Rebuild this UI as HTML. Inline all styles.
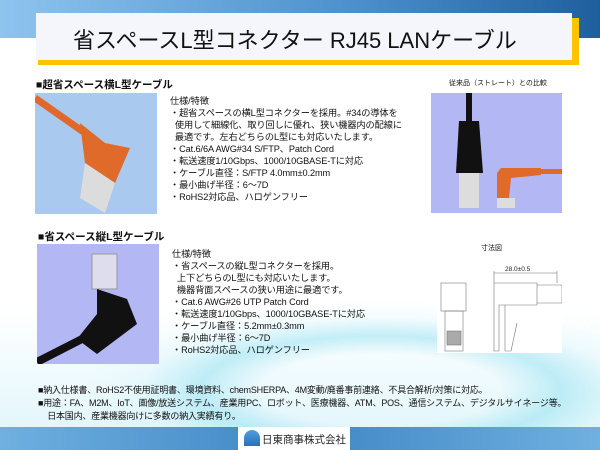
<!DOCTYPE html>
<html><head><meta charset="utf-8"><style>
*{margin:0;padding:0;box-sizing:border-box}
body{width:600px;height:450px;overflow:hidden;position:relative;background:#fff;font-family:"Liberation Sans","Noto Sans CJK JP",sans-serif;color:#111}
.a{position:absolute;white-space:nowrap}
.swirl{position:absolute;left:0;top:250px;width:600px;height:200px;background:radial-gradient(ellipse 300px 90px at 380px 140px,rgba(150,225,240,.0) 40%,rgba(150,225,240,.55) 60%,rgba(200,240,250,.2) 80%,rgba(255,255,255,0) 100%),linear-gradient(180deg,rgba(255,255,255,0) 30%,rgba(200,238,248,.6) 100%)}
.spec{font-size:9.2px;line-height:12px;letter-spacing:-0.1px}
.bot{font-size:9px;line-height:13px;letter-spacing:-0.2px}
</style></head><body>
<div class="swirl"></div>
<div class="a" style="left:0;top:0;width:600px;height:38px;background:linear-gradient(90deg,#8ec4ee,#4a8fcc 60%,#1f5f9e)"></div>
<div class="a" style="left:38px;top:18px;width:541px;height:47px;background:#fdc300"></div>
<div class="a" style="left:36px;top:13px;width:536px;height:47px;background:#f5f6fc"></div>
<div class="a" style="left:73px;top:23px;font-size:22px;color:#111">省スペースL型コネクター RJ45 LANケーブル</div>

<div class="a" style="left:36px;top:77px;font-size:10.5px;font-weight:bold">■超省スペース横L型ケーブル</div>
<div class="a" style="left:449px;top:78px;font-size:7px">従来品（ストレート）との比較</div>
<div class="a" style="left:35px;top:93px;width:122px;height:121px;background:#a9c9ef">
<svg width="122" height="121"><path d="M0 5 L50 40" stroke="#e0682a" stroke-width="7" fill="none"/><path d="M45 30 L70 50 L95 55 L80 90 L50 70Z" fill="#e06a2a"/><path d="M50 70 L80 90 L70 120 L45 105Z" fill="#dcdcdc"/></svg></div>
<div class="a" style="left:431px;top:93px;width:131px;height:120px;background:#b3b8f4">
<svg width="131" height="120"><rect x="35" y="0" width="6" height="30" fill="#111"/><path d="M28 28 L48 28 L52 80 L25 80Z" fill="#111"/><rect x="28" y="80" width="20" height="35" fill="#ddd"/><path d="M70 75 L110 75 L110 82 L80 85 L78 105 L66 105 L66 80Z" fill="#e06a2a"/><rect x="110" y="76" width="21" height="5" fill="#e06a2a"/><rect x="66" y="105" width="18" height="10" fill="#ddd"/></svg></div>
<div class="a spec" style="left:170px;top:95px">仕様/特徴<br>・超省スペースの横L型コネクターを採用。#34の導体を<br>&nbsp;&nbsp;使用して細線化、取り回しに優れ、狭い機器内の配線に<br>&nbsp;&nbsp;最適です。左右どちらのL型にも対応いたします。<br>・Cat.6/6A AWG#34 S/FTP、Patch Cord<br>・転送速度1/10Gbps、1000/10GBASE-Tに対応<br>・ケーブル直径：S/FTP 4.0mm±0.2mm<br>・最小曲げ半径：6～7D<br>・RoHS2対応品、ハロゲンフリー</div>

<div class="a" style="left:38px;top:229px;font-size:10.5px;font-weight:bold">■省スペース縦L型ケーブル</div>
<div class="a" style="left:37px;top:244px;width:122px;height:120px;background:#b3b8f4">
<svg width="122" height="120"><rect x="55" y="10" width="25" height="35" fill="#dde" stroke="#999"/><path d="M60 45 L90 55 L100 80 L60 110 L40 95 L60 70Z" fill="#111"/><path d="M0 118 L45 95" stroke="#111" stroke-width="8"/></svg></div>
<div class="a spec" style="left:172px;top:248px">仕様/特徴<br>・省スペースの縦L型コネクターを採用。<br>&nbsp;&nbsp;上下どちらのL型にも対応いたします。<br>&nbsp;&nbsp;機器背面スペースの狭い用途に最適です。<br>・Cat.6 AWG#26 UTP Patch Cord<br>・転送速度1/10Gbps、1000/10GBASE-Tに対応<br>・ケーブル直径：5.2mm±0.3mm<br>・最小曲げ半径：6～7D<br>・RoHS2対応品、ハロゲンフリー</div>

<div class="a" style="left:481px;top:243px;font-size:7px">寸法図</div>
<div class="a" style="left:437px;top:263px;width:125px;height:90px;background:#fff">
<svg width="125" height="90" stroke="#777" fill="none" stroke-width=".6"><path d="M57 8 L57 20 M120 8 L120 20 M57 10 L120 10"/><text x="68" y="8" font-size="6.5" fill="#222" stroke="none" font-family="Liberation Sans">28.0±0.5</text><rect x="4" y="20" width="25" height="28"/><rect x="8" y="48" width="18" height="40"/><rect x="10" y="68" width="14" height="14" fill="#aaa"/><path d="M57 20 L100 20 L100 42 L62 42 L62 88 L57 88Z"/><path d="M100 22 L125 22 L125 40 L100 40"/><path d="M68 42 L68 88 L74 88 L80 60"/></svg></div>

<div class="a bot" style="left:38px;top:384px">■納入仕様書、RoHS2不使用証明書、環境資料、chemSHERPA、4M変動/廃番事前連絡、不具合解析/対策に対応。<br>■用途：FA、M2M、IoT、画像/放送システム、産業用PC、ロボット、医療機器、ATM、POS、通信システム、デジタルサイネージ等。<br>&nbsp;&nbsp;&nbsp;&nbsp;日本国内、産業機器向けに多数の納入実績有り。</div>
<div class="a" style="left:0;top:427px;width:600px;height:23px;background:linear-gradient(90deg,#6fb0e0,#3f86c4 50%,#6fb0e0)"></div>
<div class="a" style="left:238px;top:427px;width:112px;height:23px;background:#fff"></div>
<div class="a" style="left:244px;top:430px;width:16px;height:16px;background:linear-gradient(#4f9ee0,#2d6fb4);border-radius:8px 8px 0 0"></div>
<div class="a" style="left:262px;top:432px;font-size:10.5px;color:#222">日東商事株式会社</div>
</body></html>
